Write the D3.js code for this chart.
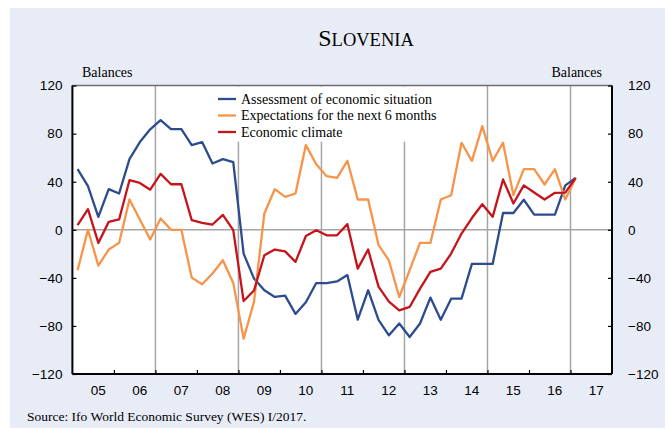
<!DOCTYPE html>
<html>
<head>
<meta charset="utf-8">
<script src="https://cdn.jsdelivr.net/npm/d3@7"></script>
<style>
  html, body { margin: 0; padding: 0; background: #ffffff; }
  svg { display: block; }
</style>
</head>
<body>
<svg id="chart" width="667" height="430"></svg>
<script>
// Quarterly WES balances for Slovenia, 2005Q1 – 2017Q1
const firstYear = 2005;
const yearLabels = ["05","06","07","08","09","10","11","12","13","14","15","16","17"];
const yTicks = [-120, -80, -40, 0, 40, 80, 120];
const gridYears = [2007, 2009, 2011, 2013, 2015, 2017];

const seriesNames = [
  "Assessment of economic situation",
  "Expectations for the next 6 months",
  "Economic climate"
];

const assessment = [
  50.5, 36.3, 10.8, 33.8, 30.2, 58.8, 73, 83.6, 91.3, 83.8,
  83.8, 70.5, 73, 55.2, 58.8, 56.3, -19.8, -40.6, -50.3, -55.9,
  -54.8, -70, -60.3, -44.3, -44.3, -43, -37.7, -74.8, -50.3, -75,
  -87.8, -78, -89.2, -78, -56.4, -74.8, -57.3, -57.3, -28.4, -28.4,
  -28.4, 14, 14, 25, 12.7, 12.7, 12.7, 37, 43.2
];
const expectations = [
  -33.7, 0, -29.8, -16.4, -10.9, 25.2, 8.6, -8.1, 9.4, 0,
  0, -39.8, -45.3, -36.4, -25.3, -44.2, -90.6, -60, 13.6, 33.8,
  27.4, 30.2, 70.5, 54.5, 44.6, 43.2, 57.4, 25.2, 25.2, -12.5,
  -25.5, -55.9, -33.5, -10.9, -10.9, 25.2, 28.8, 72.4, 57.4, 86.3,
  57.4, 72.4, 28.8, 50.5, 50.5, 37.7, 50.5, 25.2, 43.2
];
const climate = [
  3.8, 17.2, -10.9, 6.6, 8.6, 41.3, 39, 33.4, 46.5, 37.9,
  37.9, 8, 5.8, 4.4, 12.4, -0.3, -59.3, -50.5, -21.2, -16.4,
  -18, -26.7, -5.2, -0.3, -4.6, -4.6, 4.7, -32.3, -16.4, -47.3,
  -59.8, -67, -64.2, -49, -35, -32.3, -19.8, -3.1, 9.8, 21.3,
  10.8, 41.9, 21.9, 37, 31, 25.2, 30.8, 31, 43.2
];

// Quarter positions expressed as fractional years (mid-quarter)
const periods = assessment.map((_, i) => firstYear + Math.floor(i / 4) + ((i % 4) + 0.5) / 4);

const colors = ["#2C4C8D", "#F7944A", "#C5141B"];
const series = [assessment, expectations, climate];

const svg = d3.select("#chart");
const margin = { left: 72.4, right: 612, top: 85.6, bottom: 374 };

const x = d3.scaleLinear().domain([2005, 2018]).range([margin.left, margin.right]);
const y = d3.scaleLinear().domain([-120, 120]).range([margin.bottom, margin.top]);

// Panel background
svg.append("rect")
  .attr("x", 10).attr("y", 8).attr("width", 655).attr("height", 420)
  .attr("fill", "#E8ECF7");

// Plot area
svg.append("rect")
  .attr("x", margin.left).attr("y", margin.top)
  .attr("width", margin.right - margin.left).attr("height", margin.bottom - margin.top)
  .attr("fill", "#ffffff");

const serif = "'Liberation Serif', 'Times New Roman', serif";
const sans = "'Liberation Sans', Arial, sans-serif";

// Title in small caps
const title = svg.append("text")
  .attr("x", 366).attr("y", 46)
  .attr("text-anchor", "middle")
  .attr("font-family", serif)
  .attr("fill", "#000");
title.append("tspan").attr("font-size", 24).text("S");
title.append("tspan").attr("font-size", 18.5).text("LOVENIA");

// Axis captions
svg.append("text").attr("x", 82).attr("y", 77)
  .attr("font-family", serif).attr("font-size", 14).text("Balances");
svg.append("text").attr("x", 602).attr("y", 77).attr("text-anchor", "end")
  .attr("font-family", serif).attr("font-size", 14).text("Balances");

// Vertical gridlines every second year
svg.append("g").selectAll("line").data(gridYears).join("line")
  .attr("x1", d => x(d)).attr("x2", d => x(d))
  .attr("y1", margin.top).attr("y2", margin.bottom)
  .attr("stroke", "#A6A6A6").attr("stroke-width", 1.5);

// Zero line
svg.append("line")
  .attr("x1", margin.left).attr("x2", margin.right)
  .attr("y1", y(0)).attr("y2", y(0))
  .attr("stroke", "#A6A6A6").attr("stroke-width", 1.5);

// Legend backdrop
svg.append("rect")
  .attr("x", 212).attr("y", margin.top + 1).attr("width", 240).attr("height", 55)
  .attr("fill", "#ffffff");

// Series lines
const line = d3.line()
  .x((d, i) => x(periods[i]))
  .y(d => y(d));

svg.append("g").selectAll("path").data(series).join("path")
  .attr("d", d => line(d))
  .attr("fill", "none")
  .attr("stroke", (d, i) => colors[i])
  .attr("stroke-width", 2.3)
  .attr("stroke-linejoin", "round");

// Legend
const legend = svg.append("g").attr("transform", "translate(218,99)");
seriesNames.forEach((name, i) => {
  const g = legend.append("g").attr("transform", `translate(0,${i * 16.5})`);
  g.append("line").attr("x1", 0).attr("x2", 18).attr("y1", 0).attr("y2", 0)
    .attr("stroke", colors[i]).attr("stroke-width", 2.3);
  g.append("text").attr("x", 23).attr("y", 4.8)
    .attr("font-family", serif).attr("font-size", 14).text(name);
});

// Top border
svg.append("line")
  .attr("x1", margin.left).attr("x2", margin.right)
  .attr("y1", margin.top).attr("y2", margin.top)
  .attr("stroke", "#6E6E6E").attr("stroke-width", 1.5);

// Left axis
const yLeft = d3.axisLeft(y).tickValues(yTicks).tickSize(-4).tickPadding(10).tickFormat(d3.format("d"));
const gl = svg.append("g").attr("transform", `translate(${margin.left},0)`).call(yLeft);
// Right axis
const yRight = d3.axisRight(y).tickValues(yTicks).tickSize(-4).tickPadding(16).tickFormat(d3.format("d"));
const gr = svg.append("g").attr("transform", `translate(${margin.right},0)`).call(yRight);
// Bottom axis: year boundary ticks
const years = d3.range(2006, 2018);
const xAxis = d3.axisBottom(x).tickValues(years).tickSize(-4).tickFormat("");
const gb = svg.append("g").attr("transform", `translate(0,${margin.bottom})`).call(xAxis);

[gl, gr, gb].forEach(g => {
  g.select(".domain").attr("stroke", "#000").attr("stroke-width", 2);
  g.selectAll(".tick line").attr("stroke", "#000").attr("stroke-width", 1.2);
  g.selectAll(".tick text").attr("font-family", sans).attr("font-size", 13.5).attr("fill", "#000");
});
gl.select(".domain").attr("d", `M0,${margin.top}V${margin.bottom}`);
gr.select(".domain").attr("d", `M0,${margin.top}V${margin.bottom}`);
gb.select(".domain").attr("d", `M${margin.left},0H${margin.right}`);

// Year labels centred in each year span
svg.append("g").selectAll("text").data(yearLabels).join("text")
  .attr("x", (d, i) => x(firstYear + i + 0.5) + 5)
  .attr("y", 395)
  .attr("text-anchor", "middle")
  .attr("font-family", sans).attr("font-size", 13.5)
  .text(d => d);

// Source note
svg.append("text").attr("x", 27).attr("y", 421)
  .attr("font-family", serif).attr("font-size", 13.5)
  .text("Source: Ifo World Economic Survey (WES) I/2017.");
</script>
</body>
</html>
